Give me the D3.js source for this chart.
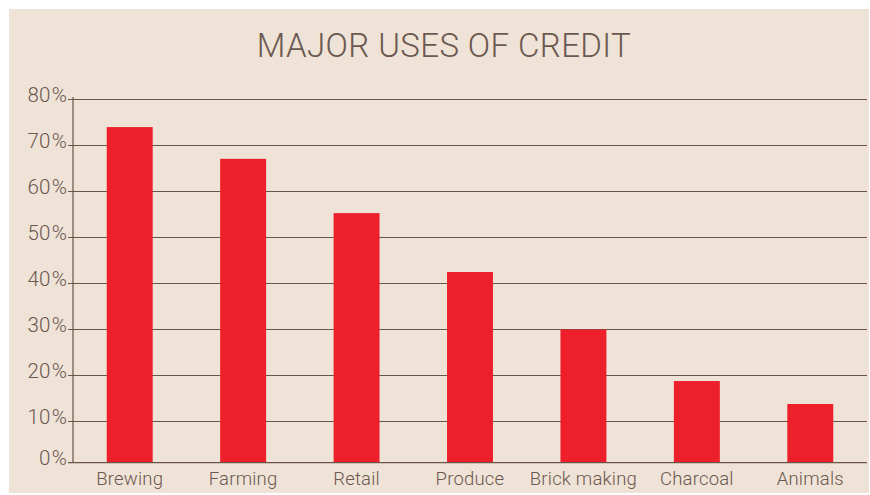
<!DOCTYPE html>
<html>
<head>
<meta charset="utf-8">
<script src="https://cdn.jsdelivr.net/npm/d3@7"></script>
<style>
  body { margin: 0; background: #fff; }
  text { font-family: Roboto, "Open Sans", sans-serif; font-weight: 300; fill: #6b5850; }
</style>
</head>
<body>
<div id="chart"></div>
<script>
// 数据
const categories = ['Brewing', 'Farming', 'Retail', 'Produce', 'Brick making', 'Charcoal', 'Animals'];
const values = [74, 67.1, 55.3, 42.5, 30, 18.8, 13.8];
const yTicks = [0, 10, 20, 30, 40, 50, 60, 70, 80];
const titleText = 'MAJOR USES OF CREDIT';

const width = 870, height = 495;
const lineColor = '#6b5548';

const svg = d3.select('#chart').append('svg')
    .attr('width', width)
    .attr('height', height);

// 背景
svg.append('rect')
    .attr('x', 9).attr('y', 9)
    .attr('width', 860).attr('height', 484)
    .attr('fill', '#efe2d7');

svg.append('text')
    .attr('x', 444)
    .attr('y', 57)
    .attr('text-anchor', 'middle')
    .style('font-size', '33px')
    .style('letter-spacing', '0.4px')
    .text(titleText);

const x = d3.scaleBand()
    .domain(categories)
    .range([73, 867])
    .paddingInner(0.595)
    .paddingOuter(0.2975);

const y = d3.scaleLinear()
    .domain([0, 80])
    .range([467.5, 99.5]);

// x 轴基线略高于 0 刻度（原图如此）
const baseY = 462.7;

// 网格线
svg.append('g')
    .selectAll('line')
    .data(yTicks.filter(d => d > 0))
    .enter()
    .append('line')
    .attr('x1', 68).attr('x2', 867)
    .attr('y1', d => y(d)).attr('y2', d => y(d))
    .attr('stroke', lineColor)
    .attr('stroke-width', 1.2);

// 柱子
svg.append('g')
    .selectAll('rect')
    .data(values)
    .enter()
    .append('rect')
    .attr('x', (d, i) => x(categories[i]))
    .attr('width', x.bandwidth())
    .attr('y', d => y(d))
    .attr('height', d => baseY - y(d))
    .attr('fill', '#ed1f2a');

// 坐标轴线
svg.append('line')
    .attr('x1', 68).attr('x2', 867)
    .attr('y1', baseY).attr('y2', baseY)
    .attr('stroke', lineColor).attr('stroke-width', 1.2);
svg.append('line')
    .attr('x1', 73).attr('x2', 73)
    .attr('y1', 97).attr('y2', baseY)
    .attr('stroke', lineColor).attr('stroke-width', 1.2);

// y 轴标签（数字和 % 之间略有间距）
const yLabels = svg.append('g')
    .selectAll('text')
    .data(yTicks)
    .enter()
    .append('text')
    .attr('x', 67)
    .attr('y', d => (d === 0 ? baseY : y(d)) + 2)
    .attr('text-anchor', 'end')
    .style('font-size', '20.5px');
yLabels.append('tspan').text(d => d);
yLabels.append('tspan').attr('dx', 1.5).text('%');

// x 轴标签
svg.append('g')
    .selectAll('text')
    .data(categories)
    .enter()
    .append('text')
    .attr('x', d => x(d) + x.bandwidth() / 2)
    .attr('y', 485)
    .attr('text-anchor', 'middle')
    .style('font-size', '18.5px')
    .style('letter-spacing', '0.2px')
    .text(d => d);
</script>
</body>
</html>
